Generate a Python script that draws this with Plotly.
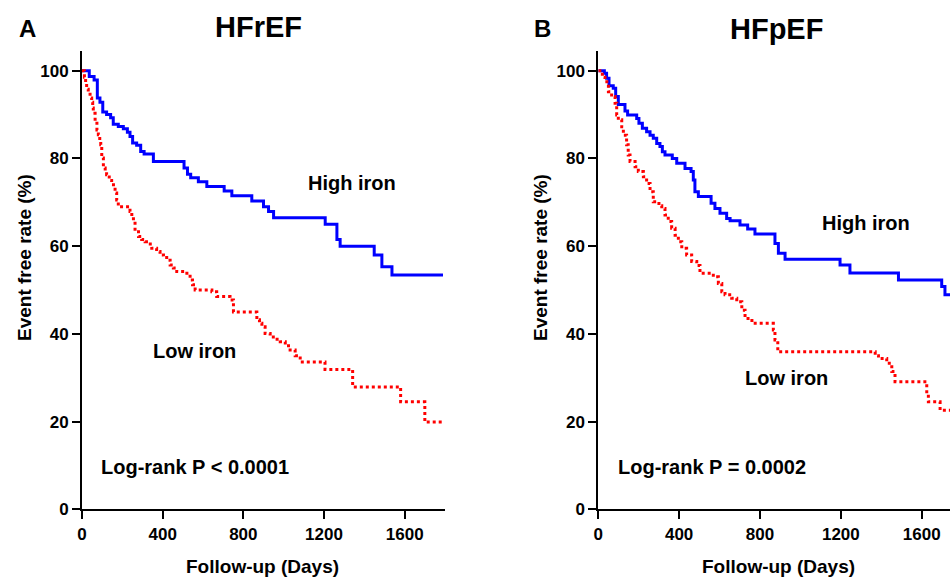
import plotly.graph_objects as go

# ---------------- data ----------------
# Panel A: HFrEF
hfref_high_days = [0, 36, 60, 76, 89, 103, 122, 142, 155, 180, 205, 225, 238, 251, 271, 291, 308, 354,
                   506, 523, 539, 577, 619, 705, 743, 842, 900, 925, 950, 1206, 1264, 1280, 1449, 1487,
                   1537, 1790]
hfref_high_rate = [100, 98.7, 97.9, 93.8, 92.8, 90.6, 90.0, 89.3, 87.8, 87.3, 86.8, 86.0, 85.0, 83.5,
                   83.0, 81.6, 81.0, 79.3, 77.8, 76.4, 75.6, 74.7, 73.6, 72.6, 71.5, 70.3, 69.0, 67.9,
                   66.5, 65.0, 61.5, 60.0, 58.0, 55.3, 53.4, 53.4]

hfref_low_days = [0, 12, 18, 23, 31, 40, 48, 53, 56, 65, 74, 81, 88, 93, 98, 106, 115, 122, 135, 147,
                  156, 164, 172, 180, 238, 247, 255, 263, 280, 296, 313, 329, 346, 370, 387, 404, 420,
                  437, 453, 470, 520, 536, 548, 561, 644, 668, 734, 751, 867, 880, 892, 908, 933, 958,
                  983, 1008, 1032, 1057, 1082, 1205, 1342, 1580, 1700, 1790]
hfref_low_rate = [100, 98.5, 97.0, 95.8, 95.0, 93.8, 92.8, 91.5, 90.3, 88.4, 86.5, 85.4, 84.0, 83.1,
                  80.1, 77.8, 77.0, 76.3, 75.0, 74.0, 73.0, 72.1, 70.5, 69.0, 67.9, 66.7, 65.6, 63.3,
                  62.2, 61.5, 61.0, 60.5, 59.5, 58.8, 58.0, 57.4, 56.8, 55.7, 55.0, 54.2, 53.8, 52.3,
                  51.2, 50.0, 49.6, 48.5, 47.7, 45.0, 43.2, 42.4, 41.6, 40.1, 39.3, 38.8, 38.2, 37.3,
                  36.3, 35.0, 33.6, 31.9, 27.9, 24.5, 19.9, 19.9]

# Panel B: HFpEF
hfpef_high_days = [0, 30, 41, 53, 74, 86, 99, 132, 145, 190, 201, 218, 239, 256, 272, 289, 305, 317,
                   330, 366, 388, 429, 459, 470, 478, 495, 558, 577, 602, 635, 652, 701, 739, 775, 874,
                   891, 924, 1196, 1245, 1485, 1699, 1715, 1740]
hfpef_high_rate = [100, 99.4, 98.3, 96.6, 96.0, 94.1, 92.3, 90.8, 89.9, 89.1, 88.0, 86.9, 86.1, 85.3,
                   84.6, 83.4, 82.7, 81.5, 80.8, 80.0, 78.9, 77.7, 77.0, 75.1, 72.4, 71.3, 69.8, 68.6,
                   67.5, 66.3, 65.8, 64.8, 63.9, 62.8, 60.6, 58.4, 57.0, 55.7, 53.9, 52.3, 50.8, 48.9,
                   48.9]

hfpef_low_days = [0, 20, 33, 50, 66, 83, 91, 99, 116, 124, 140, 148, 157, 182, 198, 223, 239, 256, 272,
                  300, 314, 330, 346, 363, 380, 396, 413, 437, 462, 487, 503, 569, 594, 611, 627, 660,
                  685, 710, 726, 760, 866, 874, 888, 1370, 1386, 1427, 1452, 1468, 1625, 1633, 1691,
                  1740]
hfpef_low_rate = [100, 98.5, 97.5, 95.2, 94.1, 92.6, 89.9, 88.8, 87.2, 85.3, 83.1, 80.8, 79.3, 78.1,
                  77.0, 75.8, 74.3, 72.4, 70.1, 69.2, 68.6, 67.1, 65.6, 64.1, 62.5, 61.0, 59.5, 58.0,
                  56.5, 55.6, 53.8, 53.0, 51.5, 49.6, 48.9, 48.1, 47.3, 45.4, 43.5, 42.4, 40.9, 38.6,
                  35.9, 35.0, 34.4, 33.3, 31.4, 29.1, 26.4, 24.5, 22.6, 22.6]

x_ticks = [0, 400, 800, 1200, 1600]
y_ticks = [0, 20, 40, 60, 80, 100]
panel_letters = ["A", "B"]
panel_titles = ["HFrEF", "HFpEF"]
group_labels = ["High iron", "Low iron"]
pvalue_labels = ["Log-rank P < 0.0001", "Log-rank P = 0.0002"]
x_title = "Follow-up (Days)"
y_title = "Event free rate (%)"

# ---------------- figure ----------------
W, H = 950, 577
FONT = "Liberation Sans, Arial, sans-serif"
BLUE = "#0000FF"
RED = "#FF0000"

fig = go.Figure()

fig.add_trace(go.Scatter(x=hfref_high_days, y=hfref_high_rate, mode="lines", line_shape="hv",
                         line=dict(color=BLUE, width=3), xaxis="x", yaxis="y", showlegend=False))
fig.add_trace(go.Scatter(x=hfref_low_days, y=hfref_low_rate, mode="lines", line_shape="hv",
                         line=dict(color=RED, width=3, dash="dot"), xaxis="x", yaxis="y", showlegend=False))
fig.add_trace(go.Scatter(x=hfpef_high_days, y=hfpef_high_rate, mode="lines", line_shape="hv",
                         line=dict(color=BLUE, width=3), xaxis="x2", yaxis="y2", showlegend=False))
fig.add_trace(go.Scatter(x=hfpef_low_days, y=hfpef_low_rate, mode="lines", line_shape="hv",
                         line=dict(color=RED, width=3, dash="dot"), xaxis="x2", yaxis="y2", showlegend=False))

y_dom = [(H - 509.3) / H, (H - 51) / H]

common_axis = dict(showline=True, linecolor="black", linewidth=2, ticks="outside", ticklen=8,
                   tickwidth=2, tickcolor="black", showgrid=False, zeroline=False,
                   tickfont=dict(family=FONT, size=17, color="black", weight="bold"))

fig.update_layout(
    width=W, height=H,
    margin=dict(l=0, r=0, t=0, b=0),
    paper_bgcolor="white", plot_bgcolor="white",
    template="none",
    xaxis=dict(domain=[82 / W, 445 / W], range=[0, 1800], tickvals=x_ticks, anchor="y", **common_axis),
    yaxis=dict(domain=y_dom, range=[0, 104.5], tickvals=y_ticks, anchor="x", **common_axis),
    xaxis2=dict(domain=[598.3 / W, 1.0], range=[0, 1740], tickvals=x_ticks, anchor="y2", **common_axis),
    yaxis2=dict(domain=y_dom, range=[0, 104.5], tickvals=y_ticks, anchor="x2", **common_axis),
)


def ann(text, px, py, size, angle=0):
    fig.add_annotation(text=text, x=px / W, y=1 - py / H, xref="paper", yref="paper",
                       xanchor="center", yanchor="middle", showarrow=False, textangle=angle,
                       font=dict(family=FONT, size=size, color="black", weight="bold"))


# panel letters and titles
ann(panel_letters[0], 27, 28, 24)
ann(panel_titles[0], 258, 27, 29)
ann(panel_letters[1], 542, 28, 24)
ann(panel_titles[1], 776, 29, 29)

# group labels
ann(group_labels[0], 352, 183, 20)
ann(group_labels[1], 194, 351, 20)
ann(group_labels[0], 866, 223, 20)
ann(group_labels[1], 786, 378, 20)

# p-values
ann(pvalue_labels[0], 195, 467, 20)
ann(pvalue_labels[1], 712, 467, 20)

# axis titles
ann(x_title, 262, 566, 19)
ann(x_title, 778, 566, 19)
ann(y_title, 24, 258, 19, angle=-90)
ann(y_title, 540, 258, 19, angle=-90)

fig.write_html("out.html", config={"displayModeBar": False},
               post_script="document.body.style.margin='0';document.body.style.overflow='hidden';")
